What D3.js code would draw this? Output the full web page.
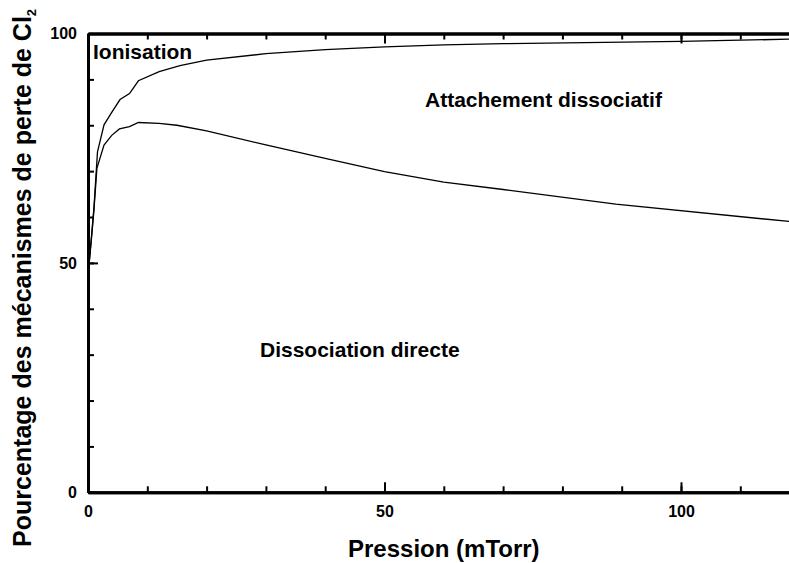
<!DOCTYPE html>
<html>
<head>
<meta charset="utf-8">
<script src="https://cdn.jsdelivr.net/npm/d3@7"></script>
<style>
  html, body { margin: 0; padding: 0; background: #fff; }
  svg { display: block; }
  text { font-family: "Liberation Sans", Arial, sans-serif; font-weight: bold; fill: #000; }
</style>
</head>
<body>
<svg id="chart" width="789" height="563"></svg>
<script>
// Pressure (mTorr)
const pressureUpper = [0.2, 0.6, 1.0, 1.6, 2.7, 4.0, 5.4, 7.0, 8.5, 12, 15.5, 20, 30, 40, 50, 60, 70, 100, 120];
// boundary Ionisation / Attachement dissociatif (%)
const upperBoundary = [50, 56, 62, 74.2, 80.1, 82.8, 85.6, 86.9, 89.7, 91.7, 93.0, 94.2, 95.6, 96.5, 97.1, 97.5, 97.8, 98.3, 98.8];
const pressureLower = [0.2, 0.6, 1.0, 1.5, 2.7, 4.0, 5.3, 7.0, 8.5, 12, 15, 20, 30, 40, 50, 60, 70, 89, 120];
// boundary Attachement dissociatif / Dissociation directe (%)
const lowerBoundary = [50, 55.5, 61.5, 70.6, 75.7, 77.8, 79.2, 79.7, 80.6, 80.4, 80.0, 78.8, 75.7, 72.8, 69.9, 67.6, 66.0, 62.8, 58.8];

const xMajorTicks = [0, 50, 100];
const xMinorTicks = [0, 10, 20, 30, 40, 50, 60, 70, 80, 90, 100, 110, 120];
const yMajorTicks = [0, 50, 100];
const yMinorTicks = [0, 10, 20, 30, 40, 50, 60, 70, 80, 90, 100];

const regionLabels = ["Ionisation", "Attachement dissociatif", "Dissociation directe"];
const xTitle = "Pression (mTorr)";
const yTitle = "Pourcentage des mécanismes de perte de Cl";

const svg = d3.select("#chart");
const mLeft = 88, mRight = 799.6, mTop = 33.5, mBottom = 492.3;

const x = d3.scaleLinear().domain([0, 120]).range([mLeft, mRight]);
const y = d3.scaleLinear().domain([0, 100]).range([mBottom, mTop]);

function styleAxis(g) {
  g.select(".domain").attr("stroke", "#000").attr("stroke-width", 3);
  g.selectAll(".tick line").attr("stroke", "#000").attr("stroke-width", 2);
  g.selectAll(".tick text").attr("font-size", 16).attr("font-family", "Liberation Sans, Arial, sans-serif").attr("font-weight", "bold").attr("fill", "#000");
}

// bottom axis
const gb1 = svg.append("g").attr("transform", `translate(0,${mBottom})`)
  .call(d3.axisBottom(x).tickValues(xMinorTicks).tickSize(-6).tickSizeOuter(0).tickFormat(""));
styleAxis(gb1);
const gb2 = svg.append("g").attr("transform", `translate(0,${mBottom})`)
  .call(d3.axisBottom(x).tickValues(xMajorTicks).tickSize(-10).tickSizeOuter(0).tickPadding(13).tickFormat(d3.format("d")));
styleAxis(gb2);

// top axis
const gt1 = svg.append("g").attr("transform", `translate(0,${mTop})`)
  .call(d3.axisTop(x).tickValues(xMinorTicks).tickSize(-6).tickSizeOuter(0).tickFormat(""));
styleAxis(gt1);
const gt2 = svg.append("g").attr("transform", `translate(0,${mTop})`)
  .call(d3.axisTop(x).tickValues(xMajorTicks).tickSize(-10).tickSizeOuter(0).tickFormat(""));
styleAxis(gt2);

// left axis
const gl1 = svg.append("g").attr("transform", `translate(${mLeft},0)`)
  .call(d3.axisLeft(y).tickValues(yMinorTicks).tickSize(-6).tickSizeOuter(0).tickFormat(""));
styleAxis(gl1);
const gl2 = svg.append("g").attr("transform", `translate(${mLeft},0)`)
  .call(d3.axisLeft(y).tickValues(yMajorTicks).tickSize(-10).tickSizeOuter(0).tickPadding(11).tickFormat(d3.format("d")));
styleAxis(gl2);

// right axis
const gr = svg.append("g").attr("transform", `translate(${mRight},0)`)
  .call(d3.axisRight(y).tickValues(yMinorTicks).tickSize(-6).tickSizeOuter(0).tickFormat(""));
styleAxis(gr);

// curves
const line = d3.line().x(d => x(d[0])).y(d => y(d[1]));
svg.append("path")
  .datum(pressureUpper.map((p, i) => [p, upperBoundary[i]]))
  .attr("d", line).attr("fill", "none").attr("stroke", "#000").attr("stroke-width", 1.3);
svg.append("path")
  .datum(pressureLower.map((p, i) => [p, lowerBoundary[i]]))
  .attr("d", line).attr("fill", "none").attr("stroke", "#000").attr("stroke-width", 1.3);

// region labels
svg.append("text").attr("x", 93).attr("y", 59).attr("font-size", 21).text(regionLabels[0]);
svg.append("text").attr("x", 425).attr("y", 107).attr("font-size", 21).text(regionLabels[1]);
svg.append("text").attr("x", 260).attr("y", 357).attr("font-size", 21).text(regionLabels[2]);

// axis titles
svg.append("text").attr("x", (mLeft + mRight) / 2).attr("y", 557).attr("text-anchor", "middle")
  .attr("font-size", 24).text(xTitle);

const yt = svg.append("text")
  .attr("transform", `translate(31,${(mBottom + mTop) / 2 + 15}) rotate(-90)`)
  .attr("text-anchor", "middle").attr("font-size", 25);
yt.append("tspan").text(yTitle);
yt.append("tspan").attr("font-size", 13).attr("dy", 5).text("2");
</script>
</body>
</html>
